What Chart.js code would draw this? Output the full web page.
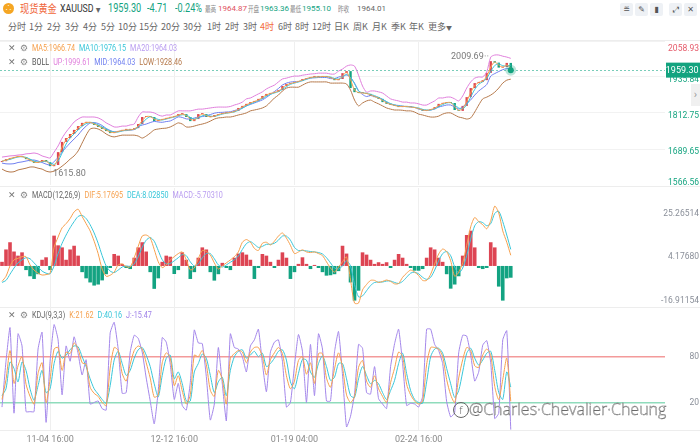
<!DOCTYPE html>
<html>
<head>
<meta charset="utf-8">
<script src="https://cdn.jsdelivr.net/npm/chart.js@4.4.1/dist/chart.umd.min.js"></script>
<style>
  body { margin:0; width:700px; height:444px; overflow:hidden; background:#fff; position:relative;
         font-family: Roboto, "Noto Sans CJK SC", sans-serif; }
  .abs { position:absolute; white-space:nowrap; }
  .r1 { top:0; height:17px; line-height:17px; }
  .r2 { top:18px; height:17px; line-height:17px; font-size:9px; color:#666; font-family:"Noto Sans CJK SC", Roboto, sans-serif; }
  .sq { transform:scaleX(.8); transform-origin:0 50%; }
  .sq2 { transform:scaleX(.76); transform-origin:0 50%; }
  .sm { font-size:8.5px; color:#888; font-family:"Noto Sans CJK SC"; transform:scaleX(.66); transform-origin:0 50%; }
  .num { font-size:8px; }
  .ico { position:absolute; top:3px; width:13px; height:13px; line-height:13px; text-align:center; border-radius:2px;
         background:#eef1f5; color:#555; font-size:8px; font-family:"DejaVu Sans", sans-serif; }
  .hr { position:absolute; left:0; width:700px; height:1px; background:#ededed; }
  canvas { position:absolute; left:0; }
  .lg { position:absolute; left:8px; height:12px; line-height:12px; font-size:9px; white-space:nowrap; }
  .lg .x { color:#777; display:inline-block; width:12px; font-family:"DejaVu Sans"; font-size:9px; }
  .lg .g { color:#888; display:inline-block; width:12px; font-family:"DejaVu Sans"; font-size:9px; }
  .lg .t { display:inline-block; transform:scaleX(.8); transform-origin:0 50%; }
  .lg .t span + span { margin-left:5px; }
</style>
</head>
<body>

<!-- header row 1 -->
<div class="abs" style="left:3px;top:3px;width:11px;height:11px;border-radius:50%;background:#f5a623;color:#fff;font-size:7px;line-height:11px;text-align:center">&#8756;</div>
<div class="abs r1 sq" style="left:20px;font-size:11.5px;color:#f0663a;font-family:'Noto Sans CJK SC'">现货黄金</div>
<div class="abs r1 sq" style="left:60px;font-size:11px;color:#333">XAUUSD <span style="font-size:6px;color:#666">&#9660;</span></div>
<div class="abs r1 sq2" style="left:108px;font-size:12px;color:#13a37f">1959.30</div>
<div class="abs r1 sq2" style="left:147px;font-size:12px;color:#13a37f">-4.71</div>
<div class="abs r1 sq2" style="left:175px;font-size:12px;color:#13a37f">-0.24%</div>
<div class="abs r1 sm" style="left:205px">最高</div>
<div class="abs r1 num" style="left:218px;color:#e0505e">1964.87</div>
<div class="abs r1 sm" style="left:248px">开盘</div>
<div class="abs r1 num" style="left:260px;color:#13a37f">1963.36</div>
<div class="abs r1 sm" style="left:290px">最低</div>
<div class="abs r1 num" style="left:302px;color:#13a37f">1955.10</div>
<div class="abs r1 sm" style="left:338px">昨收</div>
<div class="abs r1 num" style="left:357px;color:#666">1964.01</div>

<div class="ico" style="left:620px">&#8797;</div>
<div class="ico" style="left:635px">&#9998;</div>
<div class="ico" style="left:650px">&#9646;</div>
<div class="ico" style="left:669px">&#10530;</div>
<div class="ico" style="left:684px">&#10005;</div>

<!-- header row 2: periods -->
<div class="abs r2" style="left:8px">分时</div>
<div class="abs r2" style="left:29px">1分</div>
<div class="abs r2" style="left:47px">2分</div>
<div class="abs r2" style="left:65px">3分</div>
<div class="abs r2" style="left:83px">4分</div>
<div class="abs r2" style="left:101px">5分</div>
<div class="abs r2" style="left:118px">10分</div>
<div class="abs r2" style="left:139px">15分</div>
<div class="abs r2" style="left:161px">20分</div>
<div class="abs r2" style="left:183px">30分</div>
<div class="abs r2" style="left:207px">1时</div>
<div class="abs r2" style="left:225px">2时</div>
<div class="abs r2" style="left:243px">3时</div>
<div class="abs r2" style="left:260px;color:#f26b3a">4时</div>
<div class="abs r2" style="left:278px">6时</div>
<div class="abs r2" style="left:295px">8时</div>
<div class="abs r2" style="left:312px">12时</div>
<div class="abs r2" style="left:334px">日K</div>
<div class="abs r2" style="left:353px">周K</div>
<div class="abs r2" style="left:372px">月K</div>
<div class="abs r2" style="left:391px">季K</div>
<div class="abs r2" style="left:409px">年K</div>
<div class="abs r2" style="left:428px">更多<span style="font-size:6px">&#9660;</span></div>

<div class="hr" style="top:40px"></div>
<div class="hr" style="top:186px"></div>
<div class="hr" style="top:307px"></div>
<div class="hr" style="top:430px"></div>

<canvas id="mainChart" width="700" height="144" style="top:41px"></canvas>
<canvas id="macdChart" width="700" height="119" style="top:188px"></canvas>
<canvas id="kdjChart" width="700" height="137" style="top:307px"></canvas>

<!-- panel legends -->
<div class="lg" style="top:42px"><span class="x">&#10005;</span><span class="g">&#9881;</span><span class="t"><span style="color:#f6a04d">MA5:1966.74</span><span style="color:#38c6d9">MA10:1976.15</span><span style="color:#b99cf0">MA20:1964.03</span></span></div>
<div class="lg" style="top:56px"><span class="x">&#10005;</span><span class="g">&#9881;</span><span class="t"><span style="color:#555">BOLL</span><span style="color:#e07fdc">UP:1999.61</span><span style="color:#6f7ff0">MID:1964.03</span><span style="color:#b5784a">LOW:1928.46</span></span></div>
<div class="lg" style="top:189px"><span class="x">&#10005;</span><span class="g">&#9881;</span><span class="t"><span style="color:#666">MACD(12,26,9)</span><span style="color:#f6a04d">DIF:5.17695</span><span style="color:#38c6d9">DEA:8.02850</span><span style="color:#b99cf0">MACD:-5.70310</span></span></div>
<div class="lg" style="top:309px"><span class="x">&#10005;</span><span class="g">&#9881;</span><span class="t"><span style="color:#666">KDJ(9,3,3)</span><span style="color:#f6a04d">K:21.62</span><span style="color:#38c6d9">D:40.16</span><span style="color:#9d7fe8">J:-15.47</span></span></div>

<div class="abs" style="left:691px;top:84px;width:9px;height:22px;line-height:22px;background:#f0f0f0;color:#999;font-size:11px;text-align:center">&#8250;</div>

<div class="abs" style="left:453px;top:399px;height:20px;line-height:20px;font-family:'Open Sans',sans-serif;font-weight:300;font-size:16px;color:#fff;-webkit-text-stroke:0.45px #6a6a6a">
  <span style="display:inline-block;width:14px;height:14px;line-height:13px;border:1.2px solid #666;border-radius:50%;text-align:center;font-size:11px;vertical-align:1px;-webkit-text-stroke:0;color:#666">f</span>@Charles·Chevalier·Cheung
</div>

<script>
// ---- layout of the time axis (bar slots, labelled bars) ----
var slots = 166;
var tickTimes = ['11-04 16:00', '12-12 16:00', '01-19 04:00', '02-24 16:00'];
var tickBars = [12, 43, 73, 104];

// ---- axis tick values ----
var priceTicks = [1566.56, 1689.65, 1812.75, 1935.84, 2058.93];
var macdTicks = [-16.91154, 4.17680, 25.26514];
var kdjTicks = [20, 80];
var prevClose = 1964.01;
var firstOpen = 1645;
var highMark = { value: 2009.69, bar: 122 };
var lowMark = { value: 1615.80, bar: 12 };

// ---- 4h closes ----
var closes = [1648, 1655, 1659, 1662, 1666, 1662, 1655, 1648, 1642, 1645,
  1652, 1645, 1631, 1635, 1679, 1714, 1727, 1741, 1755, 1768,
  1779, 1782, 1779, 1772, 1765, 1758, 1751, 1744, 1748, 1751,
  1755, 1755, 1755, 1761, 1775, 1799, 1802, 1799, 1785, 1789,
  1792, 1796, 1799, 1802, 1809, 1809, 1799, 1785, 1792, 1809,
  1809, 1799, 1799, 1806, 1809, 1813, 1813, 1816, 1820, 1830,
  1837, 1844, 1850, 1854, 1861, 1871, 1878, 1881, 1885, 1891,
  1905, 1912, 1915, 1919, 1922, 1929, 1932, 1936, 1936, 1936,
  1939, 1936, 1932, 1925, 1929, 1949, 1956, 1898, 1884, 1881,
  1881, 1878, 1871, 1867, 1861, 1850, 1844, 1840, 1837, 1833,
  1837, 1833, 1833, 1830, 1826, 1820, 1823, 1826, 1833, 1844,
  1847, 1850, 1847, 1823, 1820, 1837, 1867, 1898, 1915, 1919,
  1925, 1950, 1990, 1985, 1968, 1970, 1984, 1959.30];

var ma5 = [1648, 1651.5, 1657, 1660.5, 1664, 1664, 1658.5, 1651.5, 1645, 1643.5,
  1648.5, 1648.5, 1638, 1633, 1657, 1696.5, 1720.5, 1734, 1748, 1761.5,
  1773.5, 1780.5, 1780.5, 1775.5, 1768.5, 1761.5, 1754.5, 1747.5, 1746, 1749.5,
  1753, 1755, 1755, 1758, 1768, 1787, 1800.5, 1800.5, 1792, 1787,
  1790.5, 1794, 1797.5, 1800.5, 1805.5, 1809, 1804, 1792, 1788.5, 1800.5,
  1809, 1804, 1799, 1802.5, 1807.5, 1811, 1813, 1814.5, 1818, 1825,
  1833.5, 1840.5, 1847, 1852, 1857.5, 1866, 1874.5, 1879.5, 1883, 1888,
  1898, 1908.5, 1913.5, 1917, 1920.5, 1925.5, 1930.5, 1934, 1936, 1936,
  1937.5, 1937.5, 1934, 1928.5, 1927, 1939, 1952.5, 1927, 1891, 1882.5,
  1881, 1879.5, 1874.5, 1869, 1864, 1855.5, 1847, 1842, 1838.5, 1835,
  1835, 1835, 1833, 1831.5, 1828, 1823, 1821.5, 1824.5, 1829.5, 1838.5,
  1845.5, 1848.5, 1848.5, 1835, 1821.5, 1828.5, 1852, 1882.5, 1906.5, 1917,
  1922, 1937.5, 1970, 1987.5, 1976.5, 1969, 1977, 1966.74];

var ma10 = [1648, 1651.5, 1654, 1658.7, 1662.3, 1663.3, 1661, 1655, 1648.3, 1645,
  1646.3, 1647.3, 1642.7, 1637, 1648.3, 1676, 1706.7, 1727.3, 1741, 1754.7,
  1767.3, 1776.3, 1780, 1777.7, 1772, 1765, 1758, 1751, 1747.7, 1747.7,
  1751.3, 1753.7, 1755, 1757, 1763.7, 1778.3, 1792, 1800, 1795.3, 1791,
  1788.7, 1792.3, 1795.7, 1799, 1803.3, 1806.7, 1805.7, 1797.7, 1792, 1795.3,
  1803.3, 1805.7, 1802.3, 1801.3, 1804.7, 1809.3, 1811.7, 1814, 1816.3, 1822,
  1829, 1837, 1843.7, 1849.3, 1855, 1862, 1870, 1876.7, 1881.3, 1885.7,
  1893.7, 1902.7, 1910.7, 1915.3, 1918.7, 1923.3, 1927.7, 1932.3, 1934.7, 1936,
  1937, 1937, 1935.7, 1931, 1928.7, 1934.3, 1944.7, 1934.3, 1912.7, 1887.7,
  1882, 1880, 1876.7, 1872, 1866.3, 1859.3, 1851.7, 1844.7, 1840.3, 1836.7,
  1835.7, 1834.3, 1834.3, 1832, 1829.7, 1825.3, 1823, 1823, 1827.3, 1834.3,
  1841.3, 1847, 1848, 1840, 1830, 1826.7, 1841.3, 1867.3, 1893.3, 1910.7,
  1919.7, 1931.3, 1955, 1975, 1981, 1974.3, 1974, 1976.15];

var bollUp = [1662, 1664, 1666, 1667, 1669, 1670, 1673, 1674, 1676, 1673,
  1666, 1662, 1659, 1679, 1700, 1727, 1748, 1765, 1782, 1792,
  1799, 1799, 1799, 1799, 1796, 1789, 1779, 1772, 1765, 1765,
  1768, 1768, 1772, 1775, 1799, 1816, 1816, 1816, 1813, 1806,
  1802, 1806, 1806, 1813, 1820, 1820, 1820, 1820, 1823, 1826,
  1826, 1828, 1830, 1832, 1833, 1833, 1833, 1835, 1840, 1844,
  1850, 1861, 1864, 1871, 1878, 1885, 1895, 1902, 1908, 1919,
  1929, 1932, 1936, 1939, 1939, 1942, 1944, 1946, 1947, 1949,
  1949, 1949, 1946, 1946, 1956, 1963, 1973, 1977, 1973, 1942,
  1905, 1884, 1888, 1888, 1885, 1881, 1871, 1861, 1857, 1854,
  1850, 1850, 1847, 1847, 1844, 1840, 1840, 1847, 1854, 1864,
  1864, 1867, 1867, 1861, 1854, 1871, 1898, 1919, 1932, 1936,
  1936, 1953, 2004, 2011, 2011, 2007, 2004, 1999.61];

var bollMid = [1641.5, 1639, 1638.5, 1639.5, 1643.5, 1645.5, 1648.5, 1651, 1652, 1648.5,
  1643.5, 1638, 1635, 1646.5, 1660.5, 1679, 1695, 1710, 1724, 1737.5,
  1754.5, 1768, 1778.5, 1780, 1777, 1770, 1760, 1753, 1748, 1749.5,
  1752.5, 1752.5, 1754.5, 1756, 1766.5, 1771.5, 1775, 1780, 1784, 1782,
  1781, 1783.5, 1785.5, 1792.5, 1799.5, 1797.5, 1792.5, 1792.5, 1795.5, 1799,
  1800.5, 1803.5, 1807.5, 1812, 1814.5, 1815, 1816, 1817, 1821, 1825,
  1829.5, 1837, 1842, 1847, 1852, 1857.5, 1866, 1876, 1886, 1896.5,
  1908.5, 1915, 1918.5, 1920, 1920, 1925, 1929.5, 1932.5, 1933, 1934,
  1934, 1934, 1930.5, 1930.5, 1935.5, 1939, 1942.5, 1934, 1915, 1889.5,
  1876, 1869, 1872.5, 1869, 1864.5, 1859, 1850.5, 1843.5, 1840, 1838.5,
  1836, 1835, 1833.5, 1831.5, 1826.5, 1823, 1821, 1823, 1826.5, 1833,
  1836.5, 1840, 1840, 1833.5, 1826.5, 1833.5, 1845, 1857.5, 1874, 1888,
  1898.5, 1910, 1939, 1947.5, 1954.5, 1961, 1964.5, 1964.03];

var bollLow = [1621, 1614, 1611, 1612, 1618, 1621, 1624, 1628, 1628, 1624,
  1621, 1614, 1611, 1614, 1621, 1631, 1642, 1655, 1666, 1683,
  1710, 1737, 1758, 1761, 1758, 1751, 1741, 1734, 1731, 1734,
  1737, 1737, 1737, 1737, 1734, 1727, 1734, 1744, 1755, 1758,
  1760, 1761, 1765, 1772, 1779, 1775, 1765, 1765, 1768, 1772,
  1775, 1779, 1785, 1792, 1796, 1797, 1799, 1799, 1802, 1806,
  1809, 1813, 1820, 1823, 1826, 1830, 1837, 1850, 1864, 1874,
  1888, 1898, 1901, 1901, 1901, 1908, 1915, 1919, 1919, 1919,
  1919, 1919, 1915, 1915, 1915, 1915, 1912, 1891, 1857, 1837,
  1847, 1854, 1857, 1850, 1844, 1837, 1830, 1826, 1823, 1823,
  1822, 1820, 1820, 1816, 1809, 1806, 1802, 1799, 1799, 1802,
  1809, 1813, 1813, 1806, 1799, 1796, 1792, 1796, 1816, 1840,
  1861, 1867, 1874, 1884, 1898, 1915, 1925, 1928.46];

// ---- MACD(12,26,9) ----
var dif = [-7.5, -5, 0, 3, 3.7, 4.5, 4.5, 0.5, -2, -3.5,
  -4.4, -4.2, -3.5, 9, 14, 18.5, 20.5, 23, 26.2, 27.5,
  24, 20.5, 17, 12, 6, -1.5, -5, -4.5, -3, 0.5,
  1, -0.3, -0.5, 4, 9.5, 14.5, 15, 13.6, 8, 2,
  -0.8, 0.5, 2.9, 4.5, 6, 6.8, 3, -1.9, -1, 3.5,
  7.5, 7, 5.3, 1.5, -1.5, 0, 1.5, 2.9, 4.5, 6.8,
  11.5, 12.8, 11.6, 8.5, 7.5, 11, 11.5, 10.2, 12, 14.5,
  16, 13.5, 10, 6, 6.8, 7.8, 6.8, 6.5, 6.8, 6,
  5, 2, -1, -3, -0.5, 2, 4.4, -6.8, -18, -18,
  -11.6, -9, -7, -7, -8, -7.5, -6.8, -7.5, -8.7, -8.5,
  -5.5, -3.5, -2, -3, -4.6, -7, -7, -4, 1, 5.8,
  8.2, 7, 2.5, -5, -3, 1.5, 10, 19, 23.5, 21.5,
  20, 18, 22, 29, 25.7, 17, 11.5, 5.17695];

var dea = [-8, -7, -4, -1, 1.5, 3, 4, 3.5, 1.5, -0.5,
  -2.5, -3.5, -3.8, 0, 6, 11, 15, 18.5, 21.5, 24,
  24.5, 23, 20, 16, 11, 5, 0, -2.5, -3.2, -2,
  -0.5, 0, -0.2, 1, 4.5, 9, 12.5, 13.8, 12, 7.5,
  3, 1, 1.2, 2.5, 4, 5.5, 5, 2, 0, 1,
  4, 6, 6, 3.5, 0.5, -0.5, 0.5, 1.8, 3, 4.8,
  8, 10.8, 11.8, 10.5, 9, 9.5, 10.5, 10.5, 11, 12.5,
  14.5, 14.5, 12.5, 9, 7.5, 7.5, 7.3, 7, 6.8, 6.5,
  5.8, 4, 1.5, -1, -1.5, 0, 2.5, 0, -9, -15,
  -14.5, -12, -9.5, -8, -7.8, -7.8, -7.3, -7.3, -8, -8.5,
  -7.5, -5.5, -3.5, -3, -3.8, -5.5, -6.5, -5.5, -2, 2.5,
  6, 7, 5, -0.5, -3.5, -1, 5, 13, 19.5, 21.5,
  21, 19.5, 20.5, 25.5, 26.5, 21.5, 15, 8.02850];

var macdHist = [2, 8, 11.5, 7, 5, 6.6, -2, -5, -6.3, -4,
  3, 4.2, -2, 14.7, 10, 9, 3, 8, 9.8, 5,
  -3, -6, -8, -9.5, -9, -7, -4, -1, 5.8, 5,
  1, -1, -1.5, 4, 9, 11.5, 7, -3, -11.1, -6,
  2, 5, 4.5, -3.9, -2, 6.6, 3, -6.3, -3, 4,
  9, 8, -3, -7.1, -4, 1.5, -1, -2, 4, 6,
  6.6, 5.5, 3, -6.3, -1, 5.8, 5, 2, -1, 3,
  6.6, 4, -6.3, -3, 1, 4.2, 1, -1.5, 0.5, -1,
  -3, -4.7, -4.5, -4, -2.5, 9.8, 6, -8, -16.8, -12,
  6.6, 5.5, 3, 1, 1.8, 1, 1.8, -1, 3, 5.8,
  4, 1, -1, -2.3, -2.3, -1.5, 4, 9, 8, 4,
  2, -4, -11, -9, -5, 5, 15, 17.1, 9, -1,
  -1.5, -1, 11.5, 9, -10, -16.8, -6, -5.70310];

// ---- KDJ(9,3,3) ----
var kdjK = [24, 50, 88, 45, 68, 80, 44, 28, 18, 58,
  72, 20, 50, 90, 92, 62, 86, 84, 98, 90,
  72, 70, 40, 32, 28, 20, 16, 65, 92, 88,
  58, 48, 70, 88, 94, 90, 72, 52, 27, 30,
  72, 85, 78, 42, 55, 35, 18, 30, 82, 80,
  88, 70, 36, 28, 62, 50, 18, 78, 84, 88,
  86, 72, 86, 92, 92, 80, 56, 76, 85, 92,
  84, 55, 38, 48, 75, 80, 57, 72, 45, 84,
  84, 52, 40, 64, 85, 66, 30, 20, 28, 66,
  75, 48, 40, 55, 38, 28, 20, 46, 65, 86,
  80, 44, 30, 22, 18, 22, 70, 92, 92, 90,
  80, 50, 30, 20, 52, 76, 92, 88, 68, 66,
  82, 90, 82, 41, 24, 50, 78, 21.62];

var kdjD = [29, 38, 73, 64.5, 47, 73, 62, 38, 23, 42,
  62, 33, 38, 71, 87, 78, 82, 89, 94, 93,
  80, 67, 51, 38, 31, 24, 19, 42, 75.5, 87,
  71, 55.5, 62, 78, 89, 92, 82, 67, 44.5, 27.5,
  55.5, 78, 82, 51, 60, 44.5, 22, 22, 60, 71,
  83.5, 78, 55.5, 33, 47, 53, 29, 62, 80, 87,
  89, 78, 82, 87, 80, 84.5, 67, 71, 78, 87,
  89, 75.5, 47, 38, 58, 76.5, 75.5, 60, 53, 71,
  81, 67, 49, 53, 71, 71, 51, 29, 26.7, 51,
  67, 55.5, 44.5, 49, 44.5, 33, 24, 35.6, 49, 71,
  84.5, 58, 35.6, 24, 20, 19, 47, 80, 90, 91,
  84.5, 64.5, 44.5, 26.7, 35.6, 60, 84.5, 91, 78, 69,
  75.5, 84.5, 87, 62, 33, 24, 60, 40.16];

var kdjJ = [14, 74, 118, 6, 110, 94, 8, 8, 8, 90,
  112, -6, 74, 122, 102, 30, 94, 74, 106, 84,
  56, 76, 18, 20, 22, 12, 10, 111, 125, 90,
  32, 33, 86, 108, 104, 86, 52, 22, -8, 35,
  105, 99, 70, 24, 45, 16, 10, 46, 115, 98,
  97, 54, -3, 18, 92, 44, -4, 110, 92, 90,
  80, 60, 94, 102, 116, 71, 34, 86, 99, 102,
  74, 14, 20, 68, 109, 87, 20, 96, 29, 110,
  90, 22, 22, 86, 113, 56, -12, 2, 31, 96,
  91, 33, 31, 67, 25, 18, 12, 67, 97, 116,
  71, 16, 19, 18, 14, 28, 116, 116, 96, 88,
  71, 21, 1, 7, 85, 108, 107, 82, 48, 60,
  95, 101, 72, -1, 6, 102, 114, -15.47];

// ---- colours / fonts ----
var RED = '#dd4553';
var GREEN = '#13a382';
var FONT = 'Roboto, "Noto Sans", sans-serif';
var NUM_SIZE = 8.5;

var fmtPrice = function (v) { return v.toFixed(2); };
var fmtMacd = function (v) { return v.toFixed(5); };
var fmtKdj = function (v) { return String(v); };

// ---- derived tables for the library ----
var barLabels = Array.from({ length: slots }, function (_, i) {
  var k = tickBars.indexOf(i);
  return k < 0 ? '' : tickTimes[k];
});
var opens = [firstOpen].concat(closes.slice(0, -1));
var candleBodies = closes.map(function (c, i) { return [opens[i], c]; });
var candleColors = closes.map(function (c, i) { return c >= opens[i] ? RED : GREEN; });
var lastClose = closes[closes.length - 1];
var lastDot = closes.map(function (c, i) { return i === closes.length - 1 ? c : null; });

function xScale(showLabels) {
  return {
    type: 'category',
    offset: true,
    border: { display: false },
    grid: {
      offset: false,
      drawTicks: false,
      color: function (c) { return tickBars.indexOf(c.index) >= 0 ? '#efefef' : 'rgba(0,0,0,0)'; }
    },
    ticks: { display: showLabels, autoSkip: false, maxRotation: 0, padding: 4, color: '#8a8a8a', font: { size: 9, family: FONT } },
    afterFit: function (s) {
      s.height = showLabels ? 14 : 0;
      s.paddingLeft = s.paddingRight = 0;
    }
  };
}

// right axis strip, 35px wide; labels mirrored so they are right-aligned at the page edge
function yScale(min, max, values, fmt, extra) {
  var s = {
    position: 'right',
    min: min,
    max: max,
    border: { display: false },
    grid: { drawTicks: false, color: '#f2f2f2' },
    ticks: { mirror: true, crossAlign: 'near', padding: 34, color: '#8a8f99',
             font: { size: NUM_SIZE, family: FONT }, callback: fmt },
    afterBuildTicks: function (axis) { axis.ticks = values.map(function (v) { return { value: v }; }); },
    afterFit: function (axis) {
      axis.width = 35;
      // keep the plot filling the whole panel height
      axis.paddingTop = axis.paddingBottom = 0;
    }
  };
  if (extra) {
    Object.assign(s.ticks, extra.ticks || {});
    Object.assign(s.grid, extra.grid || {});
  }
  return s;
}

function line(data, color, order) {
  return { type: 'line', data: data, borderColor: color, borderWidth: 1, pointRadius: 0, tension: 0.25, order: order };
}

var baseOptions = {
  responsive: false,
  animation: false,
  events: [],
  layout: { autoPadding: false, padding: 0 },
  plugins: { legend: { display: false }, tooltip: { enabled: false } }
};

// price line, badge and extreme labels
var priceOverlay = {
  id: 'priceOverlay',
  beforeDatasetsDraw: function (chart) {
    var ctx = chart.ctx, a = chart.chartArea, y = chart.scales.y;
    var py = Math.round(y.getPixelForValue(lastClose)) + 0.5;
    ctx.save();
    ctx.strokeStyle = '#79cdb9';
    ctx.lineWidth = 1;
    ctx.setLineDash([2, 2]);
    ctx.beginPath();
    ctx.moveTo(a.left, py);
    ctx.lineTo(a.right, py);
    ctx.stroke();
    ctx.restore();
  },
  afterDraw: function (chart) {
    var ctx = chart.ctx, a = chart.chartArea, x = chart.scales.x, y = chart.scales.y;
    var py = y.getPixelForValue(lastClose);
    ctx.save();
    ctx.fillStyle = '#13a37f';
    ctx.fillRect(a.right + 1, py - 7.5, chart.width - a.right - 1, 15);
    ctx.fillStyle = '#fff';
    ctx.font = '9px ' + FONT;
    ctx.textAlign = 'right';
    ctx.textBaseline = 'middle';
    ctx.fillText(fmtPrice(lastClose), chart.width - 1.5, py + 0.5);

    ctx.fillStyle = '#7a7a7a';
    ctx.strokeStyle = '#9a9a9a';
    ctx.font = '9px ' + FONT;
    var hx = x.getPixelForValue(highMark.bar), hy = y.getPixelForValue(highMark.value);
    ctx.setLineDash([1, 1.5]);
    ctx.beginPath();
    ctx.moveTo(hx - 6, hy + 0.5);
    ctx.lineTo(hx - 1, hy + 0.5);
    ctx.stroke();
    ctx.setLineDash([]);
    ctx.fillText(fmtPrice(highMark.value), hx - 7, hy + 1);

    var lx = x.getPixelForValue(lowMark.bar), ly = y.getPixelForValue(lowMark.value);
    ctx.textAlign = 'left';
    ctx.fillText(fmtPrice(lowMark.value), lx + 3, ly + 3);
    ctx.restore();
  }
};

// ---- main price panel ----
new Chart(document.getElementById('mainChart'), {
  type: 'bar',
  data: {
    labels: barLabels,
    datasets: [
      { type: 'line', data: lastDot, showLine: false, pointRadius: 3, pointBackgroundColor: '#13a37f',
        pointBorderColor: 'rgba(19,163,127,0.28)', pointBorderWidth: 5, order: 0 },
      line(ma5, '#f6a04d', 1),
      line(ma10, '#38c6d9', 2),
      line(bollMid, '#6f7ff0', 3),
      line(bollUp, '#e07fdc', 4),
      line(bollLow, '#b5784a', 5),
      { type: 'bar', data: candleBodies, backgroundColor: candleColors, barPercentage: 0.6,
        categoryPercentage: 1, minBarLength: 1, order: 10 }
    ]
  },
  options: Object.assign({}, baseOptions, {
    scales: {
      x: xScale(false),
      y: yScale(priceTicks[0], priceTicks[priceTicks.length - 1], priceTicks, fmtPrice, {
        ticks: {
          labelOffset: 2.5,
          color: function (c) { return c.tick && c.tick.value > prevClose ? '#e65b6b' : '#17a581'; },
          callback: function (v) {
            var t = fmtPrice(v);
            if (v === priceTicks[priceTicks.length - 1]) return ['', t];
            if (v === priceTicks[0]) return [t, ''];
            return t;
          }
        }
      })
    }
  }),
  plugins: [priceOverlay]
});

// ---- MACD panel ----
new Chart(document.getElementById('macdChart'), {
  type: 'bar',
  data: {
    labels: barLabels,
    datasets: [
      line(dif, '#f6a04d', 1),
      line(dea, '#38c6d9', 2),
      { type: 'bar', data: macdHist, barPercentage: 0.9, categoryPercentage: 1, order: 10,
        backgroundColor: macdHist.map(function (v) { return v >= 0 ? RED : GREEN; }) }
    ]
  },
  options: Object.assign({}, baseOptions, {
    scales: {
      x: xScale(false),
      y: yScale(-19.9, 37.8, macdTicks, fmtMacd, { grid: { display: false } })
    }
  })
});

// ---- KDJ panel ----
new Chart(document.getElementById('kdjChart'), {
  type: 'line',
  data: {
    labels: barLabels,
    datasets: [
      line(kdjK, '#f6a04d', 1),
      line(kdjD, '#38c6d9', 2),
      Object.assign(line(kdjJ, '#a487ea', 3), { tension: 0.15 })
    ]
  },
  options: Object.assign({}, baseOptions, {
    scales: {
      x: xScale(true),
      y: yScale(-16, 145, kdjTicks, fmtKdj, {
        grid: {
          lineWidth: 1.5,
          color: function (c) { return c.tick && c.tick.value === 80 ? '#f39a9a' : '#8fdcbc'; }
        }
      })
    }
  })
});
</script>
</body>
</html>
